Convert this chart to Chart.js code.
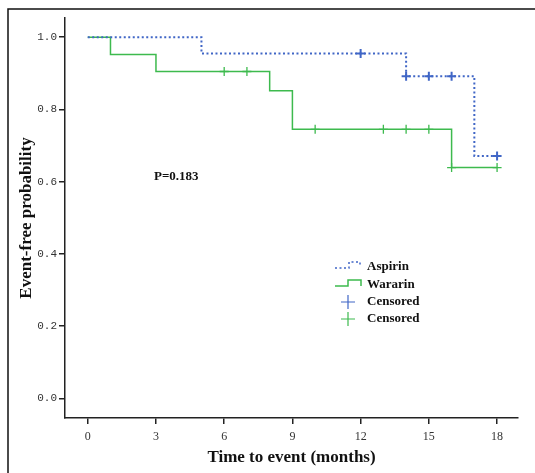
<!DOCTYPE html>
<html>
<head>
<meta charset="utf-8">
<script src="https://cdn.jsdelivr.net/npm/chart.js@4"></script>
<style>
  html, body { margin: 0; padding: 0; background: #fff; }
  #wrap { width: 535px; height: 473px; }
</style>
</head>
<body>
<div id="wrap"><canvas id="myChart" width="535" height="473"></canvas></div>
<script>
// Kaplan-Meier steps (time in months, survival)
let aspirinTimes = [0, 5, 14, 17, 18];
let aspirinSurv = [1.0, 0.955, 0.892, 0.671, 0.671];
let aspirinCensTimes = [12, 14, 15, 16, 18];
let aspirinCensSurv = [0.955, 0.892, 0.892, 0.892, 0.671];

let warfarinTimes = [0, 1, 3, 8, 9, 16, 18];
let warfarinSurv = [1.0, 0.952, 0.905, 0.852, 0.745, 0.639, 0.639];
let warfarinCensTimes = [6, 7, 10, 13, 14, 15, 16, 18];
let warfarinCensSurv = [0.905, 0.905, 0.745, 0.745, 0.745, 0.745, 0.639, 0.639];

let xTicks = [0, 3, 6, 9, 12, 15, 18];
let yTicks = [0, 0.2, 0.4, 0.6, 0.8, 1.0];

const BLUE = "#4066c6";
const GREEN = "#3dba4e";

function toPoints(xs, ys) {
	let pts = [];
	for (let i = 0; i < xs.length; i++) pts.push({ x: xs[i], y: ys[i] });
	return pts;
}

// frame, p-value and the legend box inside the plot
const extras = {
	id: 'extras',
	afterDraw(chart) {
		const c = chart.ctx;
		c.save();
		c.strokeStyle = "#111";
		c.lineWidth = 1.5;
		c.beginPath();
		c.moveTo(8, 473);
		c.lineTo(8, 9);
		c.lineTo(535, 9);
		c.stroke();

		c.fillStyle = "#111";
		c.font = "bold 13px 'Liberation Serif'";
		c.textBaseline = "middle";
		c.fillText("P=0.183", 154, 177);

		// legend
		c.lineWidth = 1.5;
		c.strokeStyle = BLUE;
		c.setLineDash([2, 2.5]);
		c.beginPath();
		c.moveTo(335, 268); c.lineTo(349, 268); c.lineTo(349, 262);
		c.lineTo(360, 262); c.lineTo(360, 266);
		c.stroke();
		c.setLineDash([]);
		c.strokeStyle = GREEN;
		c.beginPath();
		c.moveTo(335, 286); c.lineTo(348, 286); c.lineTo(348, 280);
		c.lineTo(361, 280); c.lineTo(361, 286);
		c.stroke();

		c.lineWidth = 1.2;
		c.strokeStyle = BLUE;
		c.beginPath();
		c.moveTo(341, 302); c.lineTo(355, 302);
		c.moveTo(348, 295); c.lineTo(348, 309);
		c.stroke();
		c.strokeStyle = GREEN;
		c.beginPath();
		c.moveTo(341, 319); c.lineTo(355, 319);
		c.moveTo(348, 312); c.lineTo(348, 326);
		c.stroke();

		c.fillStyle = "#111";
		c.font = "bold 13px 'Liberation Serif'";
		c.fillText("Aspirin", 367, 267);
		c.fillText("Wararin", 367, 285);
		c.fillText("Censored", 367, 302);
		c.fillText("Censored", 367, 319);
		c.restore();
	}
};

var ctx = document.getElementById("myChart").getContext('2d');
var myChart = new Chart(ctx, {
	type: 'scatter',
	data: {
		datasets: [{
			label: 'Aspirin',
			data: toPoints(aspirinTimes, aspirinSurv),
			showLine: true,
			stepped: true,
			borderColor: BLUE,
			borderWidth: 2,
			borderDash: [2, 2.5],
			pointRadius: 0,
			fill: false
		},
		{
			label: 'Wararin',
			data: toPoints(warfarinTimes, warfarinSurv),
			showLine: true,
			stepped: true,
			borderColor: GREEN,
			borderWidth: 1.5,
			pointRadius: 0,
			fill: false
		},
		{
			label: 'Censored',
			data: toPoints(aspirinCensTimes, aspirinCensSurv),
			pointStyle: 'cross',
			pointRadius: 4.5,
			borderColor: BLUE,
			borderWidth: 2
		},
		{
			label: 'Censored',
			data: toPoints(warfarinCensTimes, warfarinCensSurv),
			pointStyle: 'cross',
			pointRadius: 4.5,
			borderColor: GREEN,
			borderWidth: 1.3
		}]
	},
	options: {
		responsive: false,
		animation: false,
		layout: { padding: { left: 16, right: 17, top: 18, bottom: 5 } },
		plugins: { legend: { display: false }, tooltip: { enabled: false } },
		scales: {
			x: {
				type: 'linear',
				min: -1,
				max: 18.92,
				afterBuildTicks: function(axis) {
					axis.ticks = xTicks.map(v => ({ value: v }));
				},
				afterFit: function(axis) { axis.height = 50; },
				border: { color: "#222", width: 1.5 },
				grid: { drawOnChartArea: false, color: "#222", tickLength: 6, lineWidth: 1.5 },
				ticks: {
					color: "#333",
					font: { family: "'Liberation Serif'", size: 12 },
					padding: 6,
					maxRotation: 0
				},
				title: {
					display: true,
					text: 'Time to event (months)',
					color: "#111",
					font: { family: "'Liberation Serif'", size: 17, weight: 'bold' },
					padding: { top: 2, bottom: 0 }
				}
			},
			y: {
				type: 'linear',
				min: -0.054,
				max: 1.053,
				afterBuildTicks: function(axis) {
					axis.ticks = yTicks.map(v => ({ value: v }));
				},
				afterFit: function(axis) { axis.width = 49; },
				border: { color: "#222", width: 1.5 },
				grid: { drawOnChartArea: false, color: "#222", tickLength: 6, lineWidth: 1.5 },
				ticks: {
					color: "#333",
					font: { family: "'Liberation Mono'", size: 11 },
					padding: 2,
					callback: v => v.toFixed(1)
				},
				title: {
					display: true,
					text: 'Event-free probability',
					color: "#111",
					font: { family: "'Liberation Serif'", size: 17, weight: 'bold' },
					padding: { top: 0, bottom: 4 }
				}
			}
		}
	},
	plugins: [extras]
});
</script>
</body>
</html>
